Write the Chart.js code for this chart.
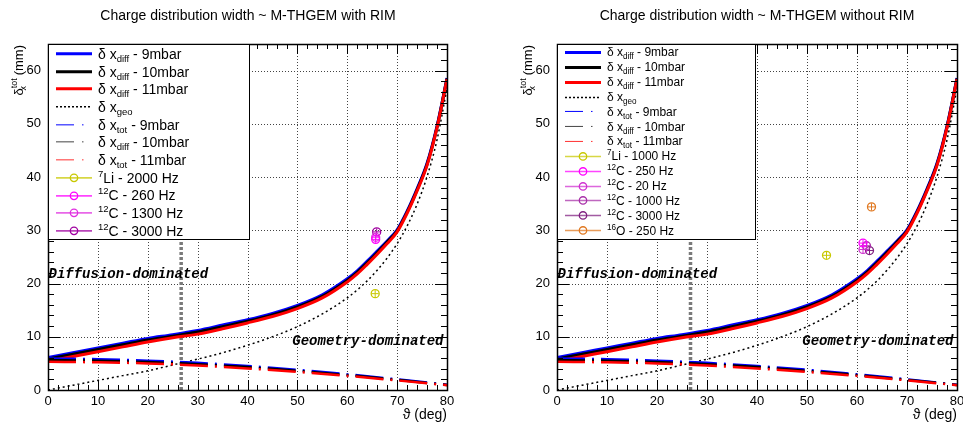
<!DOCTYPE html>
<html lang="en">
<head>
<meta charset="UTF-8">
<title>Charge distribution width ~ M-THGEM</title>
<script src="https://cdn.jsdelivr.net/npm/chart.js"></script>
<style>
    body { margin: 0; width: 963px; height: 425px; overflow: hidden; background: #fff; position: relative;
           font-family: "Liberation Sans", Arial, sans-serif; color: #000; }
    canvas { position: absolute; top: 0; }
    .title { position: absolute; top: 7px; width: 400px; font-size: 14px; text-align: center; white-space: nowrap; }
    .ytitle { position: absolute; top: 45px; writing-mode: vertical-rl; transform: rotate(180deg); font-size: 13px; white-space: nowrap; }
    .xtitle { position: absolute; top: 406px; width: 100px; font-size: 14px; text-align: right; }
    .legend { position: absolute; top: 44px; height: 196px; border: 1px solid #000; background: #fff; box-sizing: border-box; }
    .row { position: relative; white-space: nowrap; }
    .row svg { position: absolute; left: 6px; top: 0; }
    .row span { position: absolute; left: 49px; top: 50%; transform: translateY(-52%); }
    sub, sup { font-size: 68%; line-height: 0; }
</style>
</head>
<body>
    <!-- left panel -->
    <canvas id="leftChart" width="481" height="425" style="left:0"></canvas>
    <div class="title" style="left:48px">Charge distribution width ~ M-THGEM with RIM</div>
    <div class="ytitle" style="left:11px">&delta;<sup>tot</sup><sub style="margin-inline-start:-12px;margin-inline-end:7px">x</sub> (mm)</div>
    <div class="xtitle" style="left:347px">&#977; (deg)</div>
    <div id="leftLegend" class="legend" style="left:48px;width:202px"></div>

    <!-- right panel -->
    <canvas id="rightChart" width="470" height="425" style="left:509px"></canvas>
    <div class="title" style="left:557px">Charge distribution width ~ M-THGEM without RIM</div>
    <div class="ytitle" style="left:520px">&delta;<sup>tot</sup><sub style="margin-inline-start:-12px;margin-inline-end:7px">x</sub> (mm)</div>
    <div class="xtitle" style="left:857px">&#977; (deg)</div>
    <div id="rightLegend" class="legend" style="left:557px;width:199px"></div>

<script>
// angle grid (deg) for the total width curves
const theta = [0, 5, 10, 15, 20, 25, 30, 35, 40, 45, 50, 55, 60, 62, 64, 66, 68, 70, 72, 74, 76, 78, 80];
const diff9  = [6.1, 7.0, 7.9, 8.8, 9.7, 10.4, 11.2, 12.2, 13.2, 14.4, 15.9, 17.9, 20.9, 22.4, 24.2, 26.1, 28.0, 30.1, 33.6, 37.8, 42.6, 49.6, 58.6];
const diff10 = [5.8, 6.7, 7.6, 8.5, 9.4, 10.1, 10.9, 11.9, 12.9, 14.1, 15.6, 17.6, 20.6, 22.1, 23.9, 25.8, 27.8, 29.9, 33.4, 37.6, 42.4, 49.4, 58.5];
const diff11 = [5.4, 6.3, 7.2, 8.1, 9.0, 9.8, 10.5, 11.5, 12.6, 13.8, 15.3, 17.3, 20.3, 21.8, 23.6, 25.5, 27.5, 29.7, 33.2, 37.4, 42.2, 49.3, 58.4];
const geo    = [0, 0.9, 1.8, 2.7, 3.6, 4.7, 5.8, 7.0, 8.4, 10.0, 11.9, 14.3, 17.3, 18.8, 20.5, 22.5, 24.8, 27.5, 30.8, 34.9, 40.1, 47.0, 56.7];

// diffusion-only part (dash-dot)
const thetaT = [0, 10, 20, 30, 40, 50, 60, 70, 80];
const tot9  = [5.9, 5.8, 5.5, 5.1, 4.5, 3.8, 2.95, 2.0, 1.0];
const tot10 = [5.6, 5.5, 5.25, 4.85, 4.3, 3.6, 2.8, 1.9, 0.95];
const tot11 = [5.3, 5.2, 5.0, 4.6, 4.05, 3.4, 2.65, 1.8, 0.9];

// crossover angle
const thetaCross = 26.7;

// measured points, with RIM
const rimIso  = ['7', '12', '12', '12'];
const rimEl   = ['Li', 'C', 'C', 'C'];
const rimRate = ['2000 Hz', '260 Hz', '1300 Hz', '3000 Hz'];
const rimX    = [65.6, 65.7, 65.7, 65.9];
const rimY    = [18.1, 28.3, 28.7, 29.7];

// measured points, without RIM
const noRimIso  = ['7', '12', '12', '12', '12', '16'];
const noRimEl   = ['Li', 'C', 'C', 'C', 'C', 'O'];
const noRimRate = ['1000 Hz', '250 Hz', '20 Hz', '1000 Hz', '3000 Hz', '250 Hz'];
const noRimX    = [53.9, 61.2, 61.2, 61.9, 62.5, 62.9];
const noRimY    = [25.3, 27.6, 26.4, 27.1, 26.2, 34.4];

const rimColors   = ['#c8c800', '#ff00ff', '#e030e0', '#a000a0'];
const noRimColors = ['#c8c800', '#ff00ff', '#d030d0', '#a830a8', '#802080', '#e07820'];

const FONT = '"Liberation Sans", Arial, sans-serif';
const DASHDOT = [28, 7, 2, 7];

function xy(xs, ys) {
    return xs.map((x, i) => ({ x: x, y: ys[i] }));
}

function curve(xs, ys, color, width, dash) {
    return {
        data: xy(xs, ys), borderColor: color, borderWidth: width, borderDash: dash || [],
        pointRadius: 0, fill: false, cubicInterpolationMode: 'monotone'
    };
}

// ROOT-like frame: dotted grid, inner ticks on all four sides, text notes
const rootFrame = {
    id: 'rootFrame',
    beforeDatasetsDraw(chart) {
        const { ctx, chartArea: a, scales: { x, y } } = chart;
        ctx.save();
        ctx.strokeStyle = '#444';
        ctx.lineWidth = 1;
        ctx.setLineDash([1, 2]);
        ctx.beginPath();
        for (let v = 10; v < 80; v += 10) {
            const px = Math.round(x.getPixelForValue(v)) + 0.5;
            ctx.moveTo(px, a.top); ctx.lineTo(px, a.bottom);
        }
        for (let v = 10; v <= 60; v += 10) {
            const py = Math.round(y.getPixelForValue(v)) + 0.5;
            ctx.moveTo(a.left, py); ctx.lineTo(a.right, py);
        }
        ctx.stroke();
        ctx.restore();
    },
    afterDatasetsDraw(chart, args, opts) {
        const { ctx, chartArea: a, scales: { x, y } } = chart;
        ctx.save();
        ctx.strokeStyle = '#000';
        ctx.lineWidth = 1;
        ctx.setLineDash([]);
        ctx.beginPath();
        for (let v = 0; v <= 80; v += 2) {
            const px = Math.round(x.getPixelForValue(v)) + 0.5;
            const len = v % 10 === 0 ? 10 : 5;
            ctx.moveTo(px, a.bottom); ctx.lineTo(px, a.bottom - len);
            ctx.moveTo(px, a.top); ctx.lineTo(px, a.top + len);
        }
        for (let v = 0; v <= 64; v += 2) {
            const py = Math.round(y.getPixelForValue(v)) + 0.5;
            const len = v % 10 === 0 ? 12 : 6;
            ctx.moveTo(a.left, py); ctx.lineTo(a.left + len, py);
            ctx.moveTo(a.right, py); ctx.lineTo(a.right - len, py);
        }
        ctx.stroke();
        ctx.lineWidth = 1.5;
        ctx.strokeRect(Math.round(a.left) + 0.5, Math.round(a.top) + 0.5, Math.round(a.right - a.left), Math.round(a.bottom - a.top));

        ctx.font = 'italic bold 14px "Liberation Mono", "DejaVu Sans Mono", monospace';
        ctx.fillStyle = '#000';
        ctx.textBaseline = 'middle';
        (opts.notes || []).forEach(n => {
            ctx.textAlign = n.align;
            ctx.fillText(n.text, x.getPixelForValue(n.x), y.getPixelForValue(n.y));
        });
        ctx.restore();
    }
};

function makeChart(id, ptsX, ptsY, colors, rightPad) {
    const datasets = [];
    ptsX.forEach((px, i) => {
        datasets.push({
            data: [{ x: px, y: ptsY[i] }], showLine: false, pointStyle: 'circle', pointRadius: 4,
            pointBorderWidth: 1.3, pointBorderColor: colors[i], pointBackgroundColor: 'rgba(0,0,0,0)'
        });
        datasets.push({
            data: [{ x: px, y: ptsY[i] }], showLine: false, pointStyle: 'cross', pointRadius: 3.5,
            pointBorderWidth: 1, pointBorderColor: colors[i]
        });
    });
    datasets.push(curve(thetaT, tot11, '#ff0000', 2.5, DASHDOT));
    datasets.push(curve(thetaT, tot10, '#000000', 2.5, DASHDOT));
    datasets.push(curve(thetaT, tot9, '#0000ff', 2.5, DASHDOT));
    datasets.push(curve(theta, diff11, '#ff0000', 3));
    datasets.push(curve(theta, diff10, '#000000', 3));
    datasets.push(curve(theta, diff9, '#0000ff', 3));
    datasets.push(curve(theta, geo, '#000000', 1.5, [2, 3]));
    datasets.push({
        data: [{ x: thetaCross, y: 0 }, { x: thetaCross, y: 65 }], borderColor: '#7a7a7a',
        borderWidth: 3.5, borderDash: [3, 2], pointRadius: 0, fill: false
    });

    const tickFont = { family: FONT, size: 13 };
    return new Chart(document.getElementById(id), {
        type: 'line',
        data: { datasets: datasets },
        options: {
            responsive: false,
            animation: false,
            layout: { padding: { left: 0, right: rightPad, top: 44, bottom: 15 } },
            plugins: {
                legend: { display: false },
                tooltip: { enabled: false },
                rootFrame: {
                    notes: [
                        { text: 'Diffusion-dominated', x: 0.1, y: 21.7, align: 'left' },
                        { text: 'Geometry-dominated', x: 79.3, y: 9.1, align: 'right' }
                    ]
                }
            },
            scales: {
                x: {
                    type: 'linear', min: 0, max: 80,
                    grid: { display: false, drawTicks: false }, border: { display: false },
                    ticks: { stepSize: 10, padding: 4, color: '#000', font: tickFont, maxRotation: 0 },
                    afterFit: s => { s.height = 20; }
                },
                y: {
                    type: 'linear', min: 0, max: 65,
                    grid: { display: false, drawTicks: false }, border: { display: false },
                    ticks: { stepSize: 10, padding: 7, color: '#000', font: tickFont, includeBounds: false,
                             callback: v => (v % 10 === 0 ? v : '') },
                    afterFit: s => { s.width = 48; }
                }
            }
        },
        plugins: [rootFrame]
    });
}

// legend boxes drawn as html on top of the frame
function sampleSvg(kind, color, width, dash, rowH, markColor) {
    const mid = rowH / 2;
    let s = '<svg width="38" height="' + rowH + '">';
    s += '<line x1="1" x2="37" y1="' + mid + '" y2="' + mid + '" stroke="' + color + '" stroke-width="' + width + '"' +
         (dash ? ' stroke-dasharray="' + dash + '"' : '') + '/>';
    if (kind === 'marker') {
        s += '<circle cx="19" cy="' + mid + '" r="3.7" fill="none" stroke="' + markColor + '" stroke-width="1.3"/>';
    }
    return s + '</svg>';
}

function buildLegend(id, rowH, fontSize, iso, el, rate, colors) {
    const entries = [
        ['line', '#0000ff', 3, null, '&delta; x<sub>diff</sub> - 9mbar'],
        ['line', '#000000', 3, null, '&delta; x<sub>diff</sub> - 10mbar'],
        ['line', '#ff0000', 3, null, '&delta; x<sub>diff</sub> - 11mbar'],
        ['line', '#000000', 1.5, '2 2', '&delta; x<sub>geo</sub>'],
        ['line', '#0000ff', 1, '18 8 1.5 20', '&delta; x<sub>tot</sub> - 9mbar'],
        ['line', '#444444', 1, '18 8 1.5 20', '&delta; x<sub>diff</sub> - 10mbar'],
        ['line', '#ff3030', 1, '18 8 1.5 20', '&delta; x<sub>tot</sub> - 11mbar']
    ];
    iso.forEach((m, i) => {
        entries.push(['marker', colors[i], 1.6, null, '<sup>' + m + '</sup>' + el[i] + ' - ' + rate[i]]);
    });
    const box = document.getElementById(id);
    box.style.fontSize = fontSize + 'px';
    entries.forEach(e => {
        const row = document.createElement('div');
        row.className = 'row';
        row.style.height = rowH + 'px';
        const lineColor = e[0] === 'marker' ? e[1] + 'bb' : e[1];
        row.innerHTML = sampleSvg(e[0], lineColor, e[2], e[3], rowH, e[1]) + '<span>' + e[4] + '</span>';
        box.appendChild(row);
    });
}

makeChart('leftChart', rimX, rimY, rimColors, 34);
makeChart('rightChart', noRimX, noRimY, noRimColors, 22);
buildLegend('leftLegend', 17.7, 14, rimIso, rimEl, rimRate, rimColors);
buildLegend('rightLegend', 14.85, 12, noRimIso, noRimEl, noRimRate, noRimColors);
</script>
</body>
</html>
